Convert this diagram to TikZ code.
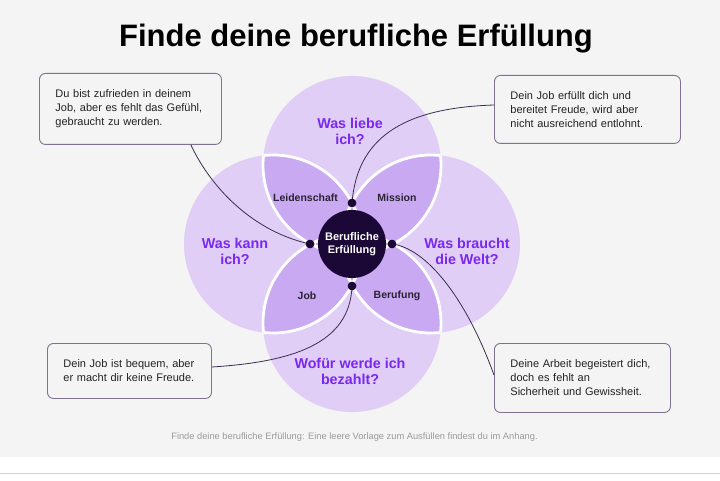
\documentclass[tikz,border=0pt]{standalone}
\usepackage{fontspec}
\setmainfont{Liberation Sans}
\usetikzlibrary{calc}
\definecolor{bgc}{HTML}{F4F4F4}
\definecolor{lightc}{HTML}{E0CEF6}
\definecolor{darkc}{HTML}{C8A9F2}
\definecolor{corec}{HTML}{1C0836}
\definecolor{violet}{HTML}{7A28F0}
\definecolor{petaltxt}{HTML}{2A2333}
\definecolor{boxc}{HTML}{7F7192}
\definecolor{linkc}{HTML}{3B2D4F}
\definecolor{txtc}{HTML}{222222}
\definecolor{footc}{HTML}{9A9A9A}
\definecolor{rulec}{HTML}{D0D0D0}
\begin{document}
\begin{tikzpicture}[x=1pt,y=-1pt,
  infobox/.style={draw=boxc, line width=0.9pt, rounded corners=6pt, fill=bgc,
    text=txtc, align=left, inner xsep=16pt, inner ysep=0pt,
    font=\fontsize{11}{14}\selectfont, anchor=north west},
  question/.style={text=violet, align=center, inner sep=0pt,
    font=\bfseries\fontsize{14.3}{16}\selectfont},
  petal/.style={text=petaltxt, inner sep=0pt, font=\bfseries\fontsize{10.5}{12}\selectfont},
  dotnode/.style={circle, fill=corec, minimum size=8.5pt, inner sep=0pt},
  link/.style={draw=linkc, line width=0.8pt},
  ring/.style={draw=white, line width=2.8pt}
]
\useasboundingbox (0,0) rectangle (720,481);
\fill[white] (0,0) rectangle (720,481);
\fill[bgc] (0,0) rectangle (720,457);
\draw[rulec, line width=1pt] (0,473) -- (720,473);

% title
\node[anchor=base, inner sep=0pt, font=\bfseries\fontsize{31}{37}\selectfont, text=black]
  (title) at (356,47) {Finde deine berufliche Erfüllung};

% circles
\coordinate (M) at (352,244);
\coordinate (T) at (352,165);
\coordinate (B) at (352,323);
\coordinate (L) at (273,244);
\coordinate (R) at (431,244);
\foreach \c in {T,B,L,R} \fill[lightc] (\c) circle[radius=89pt];
\begin{scope}
  \clip (T) circle[radius=89pt];
  \fill[darkc] (L) circle[radius=89pt];
  \fill[darkc] (R) circle[radius=89pt];
  \fill[darkc] (B) circle[radius=89pt];
\end{scope}
\begin{scope}
  \clip (B) circle[radius=89pt];
  \fill[darkc] (L) circle[radius=89pt];
  \fill[darkc] (R) circle[radius=89pt];
\end{scope}
\begin{scope}
  \clip (L) circle[radius=89pt];
  \fill[darkc] (R) circle[radius=89pt];
\end{scope}
% white rims only where a circle lies inside another one
\foreach \c/\d in {T/L,T/R,T/B,B/L,B/R,B/T,L/T,L/B,L/R,R/T,R/B,R/L}{
  \begin{scope}
    \clip (\d) circle[radius=89pt];
    \draw[ring] (\c) circle[radius=89pt];
  \end{scope}
}

% center
\node[circle, fill=corec, minimum size=68pt, inner sep=0pt, text=white, align=center,
  font=\bfseries\fontsize{11}{13}\selectfont] (core) at (M) {Berufliche\\Erfüllung};

% question labels
\node[question] (qt) at (350,131) {Was liebe\\ich?};
\node[question] (ql) at (235,251.5) {Was kann\\ich?};
\node[question] (qr) at (467,251.5) {Was braucht\\die Welt?};
\node[question] (qb) at (350,371) {Wofür werde ich\\bezahlt?};

% petal labels
\node[petal] (p1) at (305.5,198) {Leidenschaft};
\node[petal] (p2) at (397,198) {Mission};
\node[petal] (p3) at (307,296) {Job};
\node[petal] (p4) at (397,296) {Berufung};

% boxes
\node[infobox, minimum width=182pt, minimum height=71pt, text width=150pt] (b1) at (39,73)
  {Du bist zufrieden in deinem\\Job, aber es fehlt das Gefühl,\\gebraucht zu werden.};
\node[infobox, minimum width=186pt, minimum height=68pt, text width=154pt] (b2) at (494,75)
  {Dein Job erfüllt dich und\\bereitet Freude, wird aber\\nicht ausreichend entlohnt.};
\node[infobox, minimum width=164pt, minimum height=55pt, text width=132pt] (b3) at (47,343)
  {Dein Job ist bequem, aber\\er macht dir keine Freude.};
\node[infobox, minimum width=176pt, minimum height=69pt, text width=144pt] (b4) at (494,343)
  {Deine Arbeit begeistert dich,\\doch es fehlt an\\Sicherheit und Gewissheit.};

% dots
\node[dotnode] (dt) at (352,203) {};
\node[dotnode] (dl) at (310,244) {};
\node[dotnode] (dr) at (392,244) {};
\node[dotnode] (db) at (352,286) {};

% connectors
\draw[link] ([xshift=-31pt]b1.south east) .. controls (212,190) and (255,232) .. (dl.center);
\draw[link] (dt.center) .. controls (357,140) and (400,108) .. ([yshift=-30pt]b2.north west);
\draw[link] (db.center) .. controls (350,345) and (290,362) .. ([yshift=-24pt]b3.north east);
\draw[link] (dr.center) .. controls (425,248) and (465,295) .. ([yshift=-32pt]b4.north west);
\node[dotnode] at (dt) {};
\node[dotnode] at (dl) {};
\node[dotnode] at (dr) {};
\node[dotnode] at (db) {};

% footer
\node[anchor=base, inner sep=0pt, text=footc, font=\fontsize{9.3}{11}\selectfont] (foot) at (354.5,439)
  {Finde deine berufliche Erfüllung: Eine leere Vorlage zum Ausfüllen findest du im Anhang.};
\end{tikzpicture}
\end{document}
